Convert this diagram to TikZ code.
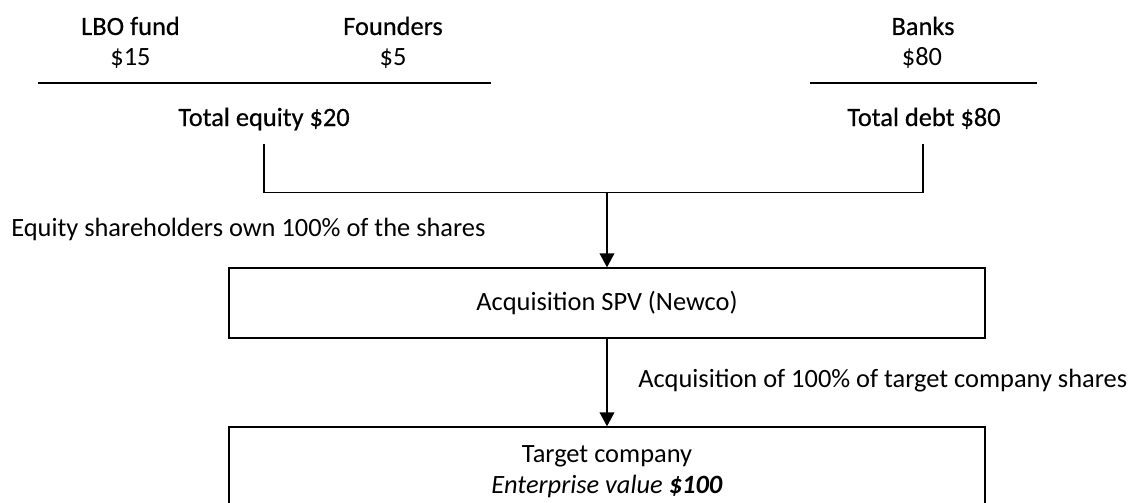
\documentclass[tikz,border=0pt]{standalone}
\usepackage{fontspec}
\setmainfont{Carlito}
\newfontfamily\headfont[FakeBold=0.5]{Carlito}
\usetikzlibrary{arrows.meta}

\begin{document}
\begin{tikzpicture}[x=0.75pt,y=0.75pt,yscale=-1,xscale=1,
	label/.style={anchor=base,inner sep=0.75pt,font=\fontsize{19.8}{23}\selectfont},
	head/.style={label,font=\fontsize{19.8}{23}\headfont},
	note/.style={anchor=base west,inner sep=0.75pt,font=\fontsize{19.8}{23}\selectfont},
	entity/.style={draw,line width=1pt,minimum width=567pt,align=center,inner sep=0pt,font=\fontsize{19.8}{23.6}\selectfont},
	flow/.style={-{Triangle[width=11pt,length=10.5pt]},line width=1.2pt}]
	\useasboundingbox (0,0) rectangle (1131,503);

	% sources of funds
	\node[head] (lbo) at (130.5,35) {LBO fund};
	\node[label] (lboamt) at (130.5,65) {\$15};
	\node[head] (founders) at (393,35) {Founders};
	\node[label] (foundersamt) at (393,65) {\$5};
	\node[head] (banks) at (923,35) {Banks};
	\node[label] (banksamt) at (922,65) {\$80};

	\draw[line width=0.8pt] (38,83) -- (491,83);
	\draw[line width=0.8pt] (810,83) -- (1037,83);

	\node[head] (eqtotal) at (264,126) {Total equity \$20};
	\node[head] (debttotal) at (924,126) {Total debt \$80};

	% structure
	\node[entity,minimum height=52.5pt] (spv) at (607,303) {Acquisition SPV (Newco)};
	\node[entity,minimum height=66.75pt] (target) at (607,471.5) {Target company\\ \textit{Enterprise value \textbf{\$100}}};

	\coordinate (eqdrop) at (264,144);
	\coordinate (debtdrop) at (923,144);
	\coordinate (join) at (607,192.5);
	\draw[line width=0.8pt] (eqdrop) |- (join) -| (debtdrop);
	\draw[flow] (join) -- (spv.north);
	\draw[flow] (spv.south) -- (target.north);

	\node[note] (ownnote) at (10,236) {Equity shareholders own 100\% of the shares};
	\node[note] (acqnote) at (637,387) {Acquisition of 100\% of target company shares};
\end{tikzpicture}
\end{document}
